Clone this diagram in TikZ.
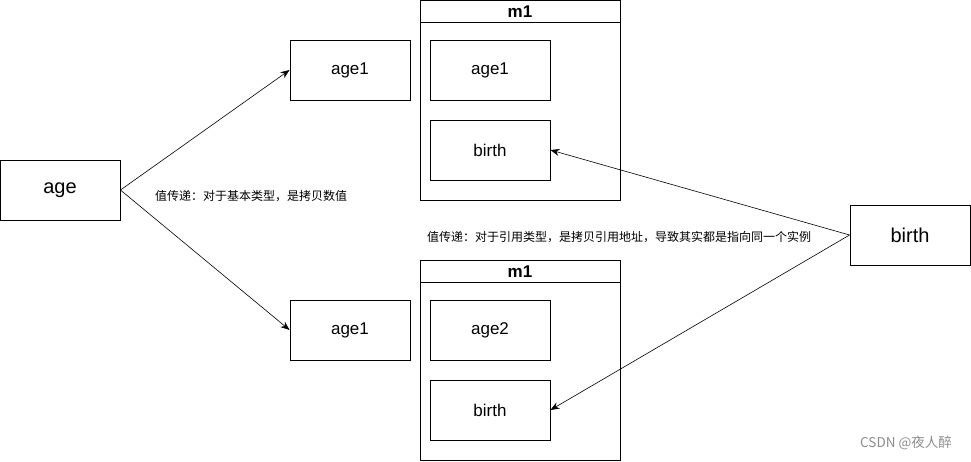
\documentclass[tikz,border=0pt]{standalone}
\usepackage{fontspec}
\setmainfont{Liberation Sans}
\newfontfamily\cjk{Noto Sans CJK SC}
\usetikzlibrary{arrows.meta}
\begin{document}
\begin{tikzpicture}[x=1pt,y=-1pt,
  box/.style={draw, line width=0.9pt, minimum width=120pt, minimum height=60pt, inner sep=0pt, font=\fontsize{17}{17}\selectfont},
  bigbox/.style={box, font=\fontsize{20}{20}\selectfont},
  cont/.style={draw, line width=0.9pt, minimum width=200pt, minimum height=200pt, inner sep=0pt},
  title/.style={font=\bfseries\fontsize{17}{17}\selectfont, inner sep=0pt},
  arr/.style={-{Stealth[length=9pt,width=7pt]}, line width=0.6pt},
  lbl/.style={font=\cjk\fontsize{12}{12}\selectfont, anchor=west, inner sep=0pt},
  wmark/.style={font=\cjk\fontsize{13.5}{13.5}\selectfont, text=black!45, inner sep=0pt}]
\useasboundingbox (0,0) rectangle (971,461);
% left
\node[bigbox] (age) at (60,190) {age};
\node[box] (a1) at (350,70) {age1};
\node[box] (a2) at (350,330) {age1};
% top container
\node[cont] (m1a) at (520,100) {};
\draw[line width=0.9pt] ([yshift=-23pt]m1a.north west) -- ([yshift=-23pt]m1a.north east);
\node[title] (t1) at (520,12) {m1};
\node[box] (ia1) at (490,70) {age1};
\node[box] (ib1) at (490,150) {birth};
% bottom container
\node[cont] (m1b) at (520,360) {};
\draw[line width=0.9pt] ([yshift=-23pt]m1b.north west) -- ([yshift=-23pt]m1b.north east);
\node[title] (t2) at (520,272) {m1};
\node[box] (ia2) at (490,330) {age2};
\node[box] (ib2) at (490,410) {birth};
% right
\node[bigbox] (birth) at (910,235) {birth};
% arrows
\draw[arr] (age.east) -- (a1.west);
\draw[arr] (age.east) -- (a2.west);
\draw[arr] (birth.west) -- (ib1.east);
\draw[arr] (birth.west) -- (ib2.east);
% labels
\node[lbl] (l1) at (155,196) {值传递：对于基本类型，是拷贝数值};
\node[lbl] (l2) at (427,237) {值传递：对于引用类型，是拷贝引用地址，导致其实都是指向同一个实例};
\node[wmark] (wm) at (906,443) {CSDN @夜人醉};
\end{tikzpicture}
\end{document}
